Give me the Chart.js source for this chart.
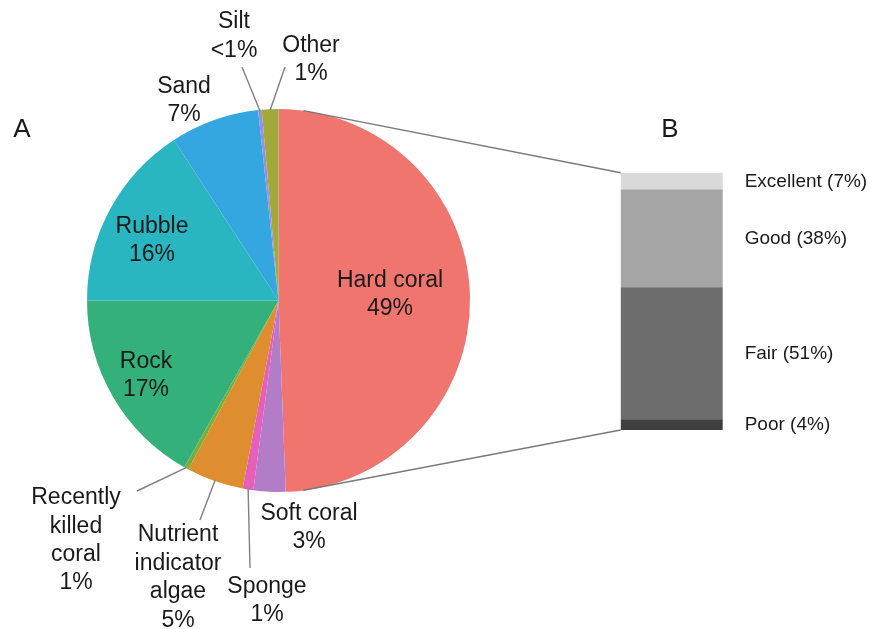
<!DOCTYPE html>
<html><head><meta charset="utf-8">
<script src="https://cdn.jsdelivr.net/npm/chart.js@4/dist/chart.umd.min.js"></script>
<style>
html,body{margin:0;padding:0;background:#fff;width:875px;height:629px;overflow:hidden}
#wrap{position:relative;width:875px;height:629px}
canvas{position:absolute;left:0;top:0}
</style></head><body>
<div id="wrap"><canvas id="pie" width="875" height="629"></canvas><canvas id="bar" width="875" height="629"></canvas></div>
<script>
// ---- data (panel A: benthic cover, clockwise from 12 o'clock) ----
const categories = ["Hard coral","Soft coral","Sponge","Nutrient indicator algae","Recently killed coral","Rock","Rubble","Sand","Silt","Other"];
const coverValues = [49.4, 2.7, 0.9, 4.8, 0.4, 16.8, 15.8, 7.5, 0.3, 1.4];
const coverLabels = ["49%","3%","1%","5%","1%","17%","16%","7%","<1%","1%"];
const categoryColors = ["#F0756F","#B27DC6","#E65FBA","#DE8E2E","#7DAE3C","#34B07B","#29B6C0","#35A7E0","#9590E8","#A3A83A"];

// ---- data (panel B: hard coral condition, bottom to top) ----
const conditionNames = ["Poor","Fair","Good","Excellent"];
const conditionValues = [3.9, 51.4, 38.0, 6.7];
const conditionLabels = ["4%","51%","38%","7%"];
const conditionColors = ["#3F3F3F","#6D6D6D","#A5A5A5","#D9D9D9"];

// ---- text layout (label text lines and placement) ----
const FONT = '"Liberation Sans", Arial, sans-serif';
const TEXT = '#1a1a1a';
const labelLayout = [
  {lines:["Hard coral"], x:390, ys:[281,309]},
  {lines:["Soft coral"], x:309, ys:[514,542]},
  {lines:["Sponge"], x:267, ys:[587,615], anchor:[250,568]},
  {lines:["Nutrient","indicator","algae"], x:178, ys:[535,563.5,592,620.5], anchor:[200,520]},
  {lines:["Recently","killed","coral"], x:76, ys:[498,527,555,583], anchor:[137,491]},
  {lines:["Rock"], x:146, ys:[362,390]},
  {lines:["Rubble"], x:152, ys:[227,255]},
  {lines:["Sand"], x:184, ys:[87,115]},
  {lines:["Silt"], x:234, ys:[22,51], anchor:[242,67]},
  {lines:["Other"], x:311, ys:[46,74], anchor:[285,67]}
];

const pieLabels = {
  id:'pieLabels',
  afterDraw(chart){
    const ctx = chart.ctx;
    const arcs = chart.getDatasetMeta(0).data;
    ctx.save();
    ctx.strokeStyle = '#808080';
    ctx.lineWidth = 1.4;
    labelLayout.forEach((L,i)=>{
      if(!L.anchor) return;
      const a = arcs[i];
      const mid = (a.startAngle + a.endAngle)/2;
      const ex = a.x + Math.cos(mid)*(a.outerRadius-1);
      const ey = a.y + Math.sin(mid)*(a.outerRadius-1);
      ctx.beginPath();
      ctx.moveTo(L.anchor[0], L.anchor[1]);
      ctx.lineTo(ex, ey);
      ctx.stroke();
    });
    ctx.fillStyle = TEXT;
    ctx.font = '23px ' + FONT;
    ctx.textAlign = 'center';
    ctx.textBaseline = 'middle';
    labelLayout.forEach((L,i)=>{
      const lines = L.lines.concat([coverLabels[i]]);
      lines.forEach((t,k)=> ctx.fillText(t, L.x, L.ys[k]));
    });
    ctx.font = '26px ' + FONT;
    ctx.fillText('A', 22, 130);
    ctx.fillText('B', 670, 130);
    ctx.restore();
  }
};

const pieChart = new Chart(document.getElementById('pie'), {
  type:'pie',
  data:{ labels:categories, datasets:[{ data:coverValues, backgroundColor:categoryColors, borderWidth:0, hoverOffset:0, hoverBorderWidth:0, offset:0 }]},
  options:{
    responsive:false, animation:false, events:[], devicePixelRatio:1,
    layout:{ padding:{ left:86.5, right:404.5, top:109, bottom:137 } },
    plugins:{ legend:{display:false}, tooltip:{enabled:false} }
  },
  plugins:[pieLabels]
});

const barLabels = {
  id:'barLabels',
  afterDraw(chart){
    const ctx = chart.ctx;
    ctx.save();
    ctx.fillStyle = TEXT;
    ctx.font = '19px ' + FONT;
    ctx.textAlign = 'left';
    ctx.textBaseline = 'middle';
    let left=0, top=0, bottom=0;
    conditionNames.forEach((n,i)=>{
      const el = chart.getDatasetMeta(i).data[0];
      const yc = (el.y + el.base)/2;
      ctx.fillText(n + ' (' + conditionLabels[i] + ')', chart.chartArea.right + 22, yc);
      left = el.x - el.width/2;
      if(i===0) bottom = el.base;
      if(i===conditionNames.length-1) top = el.y;
    });
    const a = pieChart.getDatasetMeta(0).data[0];
    const ang = 7.5*Math.PI/180;
    ctx.strokeStyle = '#7a7a7a';
    ctx.lineWidth = 1.5;
    ctx.beginPath();
    ctx.moveTo(a.x + Math.sin(ang)*a.outerRadius, a.y - Math.cos(ang)*a.outerRadius);
    ctx.lineTo(left, top);
    ctx.moveTo(a.x + Math.sin(ang)*a.outerRadius, a.y + Math.cos(ang)*a.outerRadius);
    ctx.lineTo(left, bottom);
    ctx.stroke();
    ctx.restore();
  }
};

new Chart(document.getElementById('bar'), {
  type:'bar',
  data:{ labels:['B'], datasets: conditionNames.map((n,i)=>({
    label:n, data:[conditionValues[i]], backgroundColor:conditionColors[i],
    borderWidth:0, barPercentage:1, categoryPercentage:1
  }))},
  options:{
    responsive:false, animation:false, events:[], devicePixelRatio:1,
    layout:{ padding:{ left:620.7, right:152.3, top:172.7, bottom:199 } },
    scales:{
      x:{ stacked:true, display:false },
      y:{ stacked:true, display:false, min:0, max:100 }
    },
    plugins:{ legend:{display:false}, tooltip:{enabled:false} }
  },
  plugins:[barLabels]
});
</script>
</body></html>
